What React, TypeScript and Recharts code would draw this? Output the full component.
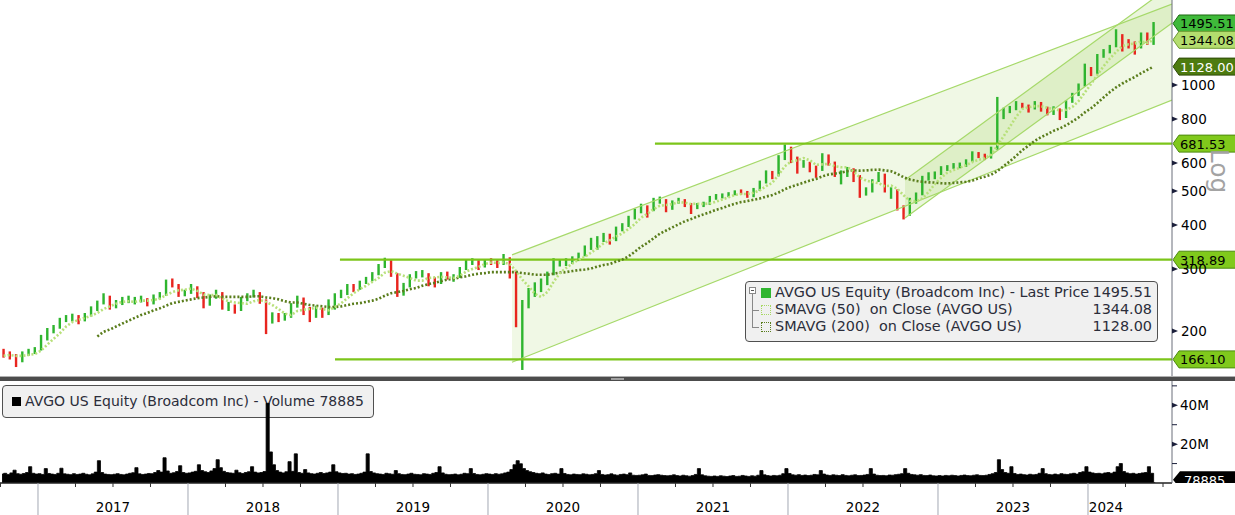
import React from 'react';
import { ComposedChart, Bar, Line, Area, XAxis, YAxis, ReferenceLine } from 'recharts';

const FONT = '"DejaVu Sans", Verdana, sans-serif';

// half-month periods starting Oct 2016
const PERIOD_START = 2016.75;
const PERIODS_PER_YEAR = 24;
// weekly-ish volume buckets (4 per month)
const VOL_PER_YEAR = 48;

const opens = [
  175,172,170,165,172,176,177,190,200,205,
  215,218,220,215,222,230,240,250,235,240,
  245,245,245,245,240,250,255,275,270,255,
  257,265,255,240,250,255,235,235,230,245,
  252,255,243,215,222,218,220,235,247,230,
  222,230,225,240,252,255,268,265,275,280,
  290,305,315,290,255,270,285,290,290,280,
  275,290,285,285,300,315,315,305,316,315,
  310,320,290,215,237,260,265,275,290,315,
  315,315,320,330,345,360,365,375,365,390,
  400,420,438,450,440,470,470,450,465,470,
  460,450,455,460,478,485,485,490,497,495,
  485,505,530,565,555,625,665,620,590,600,
  580,575,630,600,555,560,575,550,490,500,
  535,555,500,500,445,430,470,490,545,550,
  560,580,585,590,595,610,640,630,625,660,
  810,850,860,880,875,860,880,860,830,850,
  810,900,940,1000,1115,1080,1210,1250,1290,1380,
  1320,1290,1280,1380,1310,
];
const highs = [
  178,175,172,175,178,180,195,204,208,218,
  222,224,222,225,235,244,256,252,245,250,
  252,250,252,248,254,258,280,282,272,262,
  272,268,258,254,262,258,242,238,250,256,
  262,258,246,226,225,225,240,252,249,234,
  236,233,246,256,262,272,272,278,285,294,
  310,323,318,292,274,290,296,298,292,284,
  294,295,290,304,320,322,318,320,322,318,
  331,324,298,245,265,275,282,295,322,320,
  322,326,334,350,368,372,380,378,396,405,
  425,445,460,455,478,482,474,470,478,474,
  462,462,466,484,490,492,496,502,505,500,
  510,535,572,570,632,678,668,626,612,605,
  590,640,635,606,572,585,580,555,512,540,
  566,560,512,505,455,478,495,552,565,568,
  588,592,600,602,615,648,645,638,668,925,
  862,872,900,890,880,900,895,868,870,858,
  905,950,1010,1150,1125,1225,1265,1300,1440,1395,
  1350,1330,1410,1410,1510,
];
const lows = [
  168,166,158,163,170,172,176,188,197,203,
  212,213,209,213,220,228,238,230,232,237,
  240,238,241,235,238,246,252,266,250,251,
  255,248,232,236,247,230,228,224,228,243,
  249,239,196,210,212,214,218,233,222,212,
  218,218,222,230,248,253,258,262,272,277,
  288,302,285,250,252,266,282,284,268,266,
  272,280,276,283,298,308,298,303,308,302,
  308,282,205,155,232,250,258,270,288,305,
  306,310,316,326,340,340,358,352,360,384,
  395,415,432,420,438,460,435,442,460,450,
  430,444,450,456,472,476,480,486,488,478,
  480,500,525,540,550,612,600,560,582,565,
  545,570,590,548,522,548,530,478,485,495,
  530,495,475,440,415,425,460,486,535,540,
  555,570,578,580,585,605,620,612,618,655,
  800,832,848,860,835,852,840,820,822,795,
  806,890,930,990,1060,1075,1195,1230,1280,1245,
  1270,1220,1270,1300,1300,
];
const closes = [
  172,170,165,172,176,177,190,200,205,215,
  218,220,215,222,230,240,250,235,240,245,
  245,245,245,240,250,255,275,270,255,257,
  265,255,240,250,255,235,235,230,245,252,
  255,243,215,222,218,220,235,247,230,222,
  230,225,240,252,255,268,265,275,280,290,
  305,315,290,255,270,285,290,290,280,275,
  290,285,285,300,315,315,305,316,315,310,
  320,290,215,237,260,265,275,290,315,315,
  315,320,330,345,360,365,375,365,390,400,
  420,438,450,440,470,470,450,465,470,460,
  450,455,460,478,485,485,490,497,495,485,
  505,530,565,555,625,665,620,590,600,580,
  575,630,600,555,560,575,550,490,500,535,
  555,500,500,445,430,470,490,545,550,560,
  580,585,590,595,610,640,630,625,660,810,
  850,860,880,875,860,880,860,830,850,810,
  900,940,1000,1115,1080,1210,1250,1290,1380,1320,
  1290,1280,1380,1310,1495.51,
];
const sma50 = [
  170,171,170,170,171,172,176,183,190,197,
  206,212,215,218,221,225,231,235,239,242,
  243,242,244,244,245,247,253,258,261,262,
  264,260,254,253,253,247,243,241,240,239,
  243,245,242,237,231,224,222,228,230,231,
  233,231,229,234,240,248,256,263,269,276,
  283,293,296,291,287,283,278,278,283,284,
  285,284,283,287,295,300,304,310,313,312,
  313,310,296,280,268,255,250,258,276,292,
  302,311,319,325,334,344,355,362,371,379,
  390,403,420,430,444,454,456,459,465,463,
  459,460,459,461,466,473,480,487,490,490,
  494,502,516,528,556,588,606,611,620,611,
  593,595,597,588,584,584,568,546,535,530,
  526,516,518,507,486,469,467,476,497,523,
  545,564,573,582,592,604,613,620,633,673,
  715,761,812,855,865,871,871,861,856,846,
  850,866,900,953,1007,1069,1131,1189,1242,1290,
  1306,1312,1330,1316,1344.08,
];
const SMA200_FIRST = 15;
const sma200 = [
  193,199,202,206,210,214,218,222,225,229,
  232,236,240,242,244,246,248,249,250,251,
  250,250,250,250,250,251,251,249,248,246,
  243,241,241,239,237,236,235,234,234,235,
  237,239,240,242,244,247,252,256,258,260,
  263,265,269,272,274,277,280,281,284,286,
  289,291,292,294,294,294,294,294,292,291,
  289,289,289,291,293,294,296,298,299,301,
  305,308,310,315,319,326,336,347,356,367,
  378,386,394,402,410,416,423,429,435,442,
  447,454,460,465,468,472,476,482,487,495,
  506,514,521,528,535,541,550,557,560,564,
  569,572,571,572,574,575,572,569,559,547,
  539,534,531,529,528,526,525,527,529,531,
  535,543,549,556,569,588,607,629,653,673,
  694,711,725,741,753,769,788,809,836,859,
  889,922,955,985,1010,1033,1054,1080,1104,1128,
];
// volume in millions of shares
const volumeM = [
  4.6,5.0,4.4,5.2,6.6,4.8,4.5,4.9,5.4,8.4,5.0,4.6,
  4.8,4.4,7.4,4.9,4.6,4.4,5.0,7.6,4.7,4.5,4.3,4.8,
  4.4,4.6,5.0,4.5,4.2,4.7,5.6,11.5,5.4,4.6,4.4,4.3,
  4.5,4.8,4.4,4.2,4.6,5.0,5.3,7.9,4.7,4.4,4.6,4.9,
  4.8,5.4,6.4,5.6,13.0,6.2,5.0,5.3,5.9,8.9,5.4,5.0,
  5.2,5.6,6.0,9.4,6.4,5.8,5.4,6.2,7.4,12.0,7.9,6.0,
  5.4,5.2,5.0,6.6,5.3,4.9,5.4,5.8,8.4,5.6,5.2,5.4,
  5.9,41.0,16.0,9.4,6.4,5.6,5.2,5.8,11.0,6.0,15.0,5.4,
  5.0,6.9,5.2,4.8,4.6,5.0,5.4,4.9,5.2,5.6,9.4,5.8,
  5.2,4.9,5.0,4.6,4.8,4.4,4.6,5.0,5.6,15.0,5.9,5.2,
  4.8,4.6,4.4,5.0,4.7,4.5,6.4,4.8,4.4,4.3,4.6,5.0,
  4.5,4.4,4.2,4.8,4.6,4.4,5.0,5.4,8.4,5.2,4.5,4.3,
  4.4,4.6,4.2,4.5,5.0,4.8,7.4,4.9,4.4,4.2,4.5,4.8,
  4.6,4.4,4.8,4.5,4.7,5.2,5.6,6.9,9.4,11.5,9.9,7.4,
  6.4,5.8,5.4,5.0,4.8,5.2,4.6,4.4,4.8,5.0,4.6,7.4,
  4.9,4.4,4.2,4.6,4.4,4.3,4.7,4.5,4.2,4.4,4.8,6.4,
  4.4,4.1,4.3,4.7,4.2,4.0,4.4,4.6,4.3,5.2,4.0,3.9,
  4.0,4.2,4.6,3.9,3.8,4.1,4.3,4.0,3.8,3.7,3.9,4.2,
  3.8,3.6,4.0,3.7,3.5,3.8,4.4,7.4,4.2,3.7,3.5,3.4,
  3.6,3.4,3.7,3.5,3.3,3.6,3.8,3.4,3.5,3.9,3.6,3.4,
  3.7,3.5,4.0,6.4,4.2,3.8,3.6,3.9,3.7,4.0,4.8,7.4,
  4.9,4.2,4.0,4.3,3.9,4.1,3.8,4.0,4.4,4.2,6.4,4.6,
  4.1,3.9,4.2,4.0,3.8,4.3,3.9,3.7,4.0,4.2,3.8,3.9,
  4.1,4.4,7.4,4.6,4.0,3.8,3.9,3.7,4.1,4.0,4.3,4.5,
  4.8,7.4,5.0,4.4,4.2,4.0,4.3,3.9,3.8,4.1,3.7,3.6,
  3.8,3.6,3.9,3.7,4.0,3.8,3.6,3.9,4.1,3.8,3.7,4.0,
  4.2,3.9,3.8,4.0,4.4,4.8,5.4,12.0,6.9,5.4,5.0,8.4,
  4.9,4.4,4.6,4.3,4.1,4.5,4.2,4.4,5.0,7.4,4.8,4.4,
  4.2,4.6,4.3,4.8,4.5,4.4,4.7,5.0,4.6,5.4,5.8,8.4,
  5.6,5.2,4.9,5.0,4.7,5.2,5.4,5.0,5.6,8.4,10.0,5.9,
  5.2,4.8,5.0,4.6,4.9,5.2,5.4,8.4,5.0,0.078885,
];

const years = [2017, 2018, 2019, 2020, 2021, 2022, 2023, 2024];
const priceTicks = [200, 300, 400, 500, 600, 800, 1000];
const volumeTicks = [10, 20, 30, 40, 50];
const volumeTickLabels: Record<number, string> = { 20: '20M', 40: '40M' };

const X_MIN = 2016.7467;
const X_MAX = 2024.56;

// horizontal support/resistance levels and where they start
const levelValues = [681.53, 318.89, 166.1];
const levelStarts = [2021.113, 2019.013, 2018.98];
const levelLabels = ['681.53', '318.89', '166.10'];

// last-value tags
const lastValues = [1495.51, 1344.08, 1128.0];
const lastLabels = ['1495.51', '1344.08', '1128.00'];
const lastFills = ['#3fb93a', '#b4dd6e', '#4d7b10'];
const lastStrokes = ['#1f6a14', '#6f9a33', '#2d4a07'];
const lastTextColors = ['#000', '#000', '#fff'];

// trend channels (start / end, lower / upper)
const wideChannel = [
  { t: 2020.16, lo: 163, hi: 329 },
  { t: 2024.56, lo: 906, hi: 1699 },
];
const innerChannel = [
  { t: 2022.78, lo: 419, hi: 537 },
  { t: 2024.56, lo: 1500, hi: 1923 },
];

const priceData = closes.map((c, i) => ({
  t: PERIOD_START + (i + 0.5) / PERIODS_PER_YEAR,
  o: opens[i],
  h: highs[i],
  l: lows[i],
  c,
  s50: sma50[i],
  s200: i >= SMA200_FIRST ? sma200[i - SMA200_FIRST] : null,
}));

const volData = volumeM.map((v, j) => ({
  t: PERIOD_START + (j + 0.5) / VOL_PER_YEAR,
  v,
}));

const xTicks: number[] = [PERIOD_START];
years.forEach((y) => {
  [0, 0.25, 0.5, 0.75].forEach((q) => {
    if (y + q <= X_MAX) xTicks.push(y + q);
  });
});

const GREEN = '#2fb52f';
const RED = '#e8251f';

const Candle = (props: any) => {
  const { x, y, width, height, payload } = props;
  if (!payload || height == null) return null;
  const { o, h, l, c } = payload;
  const lh = Math.log(h);
  const ll = Math.log(l);
  const py = (v: number) => y + (height * (lh - Math.log(v))) / (lh - ll);
  const up = c >= o;
  const color = up ? GREEN : RED;
  const cx = x + width / 2;
  const top = py(Math.max(o, c));
  const bot = py(Math.min(o, c));
  return (
    <g>
      <line x1={cx} x2={cx} y1={y} y2={y + height} stroke={color} strokeWidth={2.4} />
      <rect x={x} y={top} width={width} height={Math.max(2, bot - top)} fill={color} />
    </g>
  );
};

const PriceTag = (props: any) => {
  const { viewBox, text, fill, stroke, color } = props;
  if (!viewBox) return null;
  const x = viewBox.x + viewBox.width;
  const y = viewBox.y;
  const h = 17;
  const x1 = x + 7;
  return (
    <g>
      <path
        d={`M${x + 1},${y} L${x1},${y - h / 2} L1240,${y - h / 2} L1240,${y + h / 2} L${x1},${y + h / 2} Z`}
        fill={fill}
        stroke={stroke}
        strokeWidth={1}
      />
      <text x={x1 + 1} y={Math.round(y + 5)} fontSize={13} fontFamily={FONT} fill={color} stroke="none">
        {text}
      </text>
    </g>
  );
};

const VolTag = (props: any) => {
  const { viewBox } = props;
  if (!viewBox) return null;
  const x = viewBox.x + viewBox.width;
  const y = viewBox.y - 3;
  const h = 17;
  const x1 = x + 8;
  return (
    <g>
      <defs>
        <clipPath id="volTagClip">
          <rect x={0} y={0} width={1240} height={102} />
        </clipPath>
      </defs>
      <g clipPath="url(#volTagClip)">
        <path
          d={`M${x + 1},${y} L${x1},${y - h / 2} L1240,${y - h / 2} L1240,${y + h / 2} L${x1},${y + h / 2} Z`}
          fill="#000"
        />
        <text x={x1 + 4} y={Math.round(y + 5)} fontSize={13} fontFamily={FONT} fill="#fff" stroke="none">
          78885
        </text>
      </g>
    </g>
  );
};

const PriceTick = (props: any) => {
  const { x, y, payload } = props;
  return (
    <g>
      <path d={`M${x},${y - 2.5} L${x + 6},${y} L${x},${y + 2.5} Z`} fill="#1b1f3b" stroke="none" />
      <text x={Math.round(x + 9)} y={Math.round(y + 5)} fontSize={13.5} fontFamily={FONT} fill="#000" stroke="none">
        {payload.value}
      </text>
    </g>
  );
};

const VolTick = (props: any) => {
  const { x, y, payload } = props;
  const label = volumeTickLabels[payload.value];
  if (!label) return <line x1={x} x2={x + 5} y1={y} y2={y} stroke="#1b1f3b" />;
  return (
    <g>
      <path d={`M${x},${y - 2.5} L${x + 6},${y} L${x},${y + 2.5} Z`} fill="#1b1f3b" stroke="none" />
      <text x={Math.round(x + 8)} y={Math.round(y + 5)} fontSize={13.5} fontFamily={FONT} fill="#000" stroke="none">
        {label}
      </text>
    </g>
  );
};

const XTick = (props: any) => {
  const { x, y, payload } = props;
  const v = payload.value;
  const yr = Math.round(v);
  const isYear = Math.abs(v - yr) < 1e-6;
  if (!isYear) return <line x1={x} x2={x} y1={y} y2={y + 4} stroke="#333" />;
  const cx = Math.round(yr === years[years.length - 1] ? x + 18 : x + 75);
  return (
    <g>
      <line x1={x} x2={x} y1={y} y2={y + 34} stroke="#a3a8b4" />
      <text x={cx} y={Math.round(y + 29)} textAnchor="middle" fontSize={13.5} fontWeight={400} fontFamily={FONT} fill="#000" stroke="none">
        {yr}
      </text>
    </g>
  );
};

const chanFill = '#9fd35f';
const chanStroke = '#a6d96a';

export default function App() {
  return (
    <div style={{ position: 'absolute', left: 0, top: 0, width: 1235, height: 515, background: '#fff', overflow: 'hidden' }}>
      {/* price panel */}
      <div style={{ position: 'absolute', left: 0, top: 0 }}>
        <ComposedChart width={1235} height={376} data={priceData} margin={{ top: 0, right: 0, bottom: 0, left: 0 }}>
          <XAxis dataKey="t" type="number" domain={[X_MIN, X_MAX]} allowDataOverflow hide />
          <YAxis
            orientation="right"
            width={63}
            scale="log"
            domain={[149, 1744]}
            allowDataOverflow
            ticks={priceTicks}
            interval={0}
            tickLine={false}
            tickSize={0}
            tickMargin={0}
            tick={<PriceTick />}
            axisLine={{ stroke: '#6b6f7a' }}
          />
          <Area data={wideChannel} dataKey={(d: any) => [d.lo, d.hi]} type="linear" fill={chanFill} fillOpacity={0.16} stroke="none" isAnimationActive={false} dot={false} activeDot={false} />
          <Area data={innerChannel} dataKey={(d: any) => [d.lo, d.hi]} type="linear" fill={chanFill} fillOpacity={0.22} stroke="none" isAnimationActive={false} dot={false} activeDot={false} />
          <Line data={wideChannel} dataKey="lo" stroke={chanStroke} strokeWidth={1.2} dot={false} activeDot={false} isAnimationActive={false} />
          <Line data={wideChannel} dataKey="hi" stroke={chanStroke} strokeWidth={1.2} dot={false} activeDot={false} isAnimationActive={false} />
          <Line data={innerChannel} dataKey="lo" stroke={chanStroke} strokeWidth={1.2} dot={false} activeDot={false} isAnimationActive={false} />
          <Line data={innerChannel} dataKey="hi" stroke={chanStroke} strokeWidth={1.2} dot={false} activeDot={false} isAnimationActive={false} />
          {levelValues.map((v, k) => (
            <ReferenceLine
              key={'lvl' + k}
              segment={[{ x: levelStarts[k], y: v }, { x: X_MAX, y: v }]}
              stroke="#7cc51a"
              strokeWidth={2.2}
              label={<PriceTag text={levelLabels[k]} fill="#80c91c" stroke="#4d8a10" color="#000" />}
            />
          ))}
          <Bar
            dataKey={(d: any) => [d.l, d.h]}
            barSize={6}
            isAnimationActive={false}
            shape={(p: any) => <Candle {...p} />}
          />
          <Line dataKey="s200" stroke="#5a7d1c" strokeWidth={2.6} strokeDasharray="2 2" dot={false} activeDot={false} isAnimationActive={false} connectNulls={false} />
          <Line dataKey="s50" stroke="#b8e07a" strokeWidth={2.6} strokeDasharray="2 2" dot={false} activeDot={false} isAnimationActive={false} />
          {lastValues.map((v, k) => (
            <ReferenceLine
              key={'last' + k}
              y={v}
              stroke="none"
              label={<PriceTag text={lastLabels[k]} fill={lastFills[k]} stroke={lastStrokes[k]} color={lastTextColors[k]} />}
            />
          ))}
        </ComposedChart>
      </div>

      {/* Log watermark */}
      <div
        style={{
          position: 'absolute',
          left: 1194,
          top: 156,
          width: 50,
          height: 30,
          fontFamily: FONT,
          fontSize: 25,
          color: '#a3a3a3',
          transform: 'rotate(90deg)',
          transformOrigin: 'center',
          textAlign: 'center',
          lineHeight: '30px',
        }}
      >
        Log
      </div>

      {/* price legend */}
      <div
        style={{
          position: 'absolute',
          left: 745,
          top: 281,
          width: 413,
          height: 61,
          background: '#f0f0f0',
          border: '1px solid #505050',
          borderRadius: 4,
          boxSizing: 'border-box',
          fontFamily: FONT,
          fontSize: 14.4,
          color: '#2b2d3a',
        }}
      >
        <div style={{ position: 'absolute', left: 3, top: 5, width: 7, height: 7, border: '1px solid #888', boxSizing: 'border-box', background: '#fff' }}>
          <div style={{ position: 'absolute', left: 1, top: 2, width: 3, height: 1, background: '#555' }} />
        </div>
        <div style={{ position: 'absolute', left: 6, top: 12, width: 1, height: 34, background: '#888' }} />
        <div style={{ position: 'absolute', left: 6, top: 28, width: 7, height: 1, background: '#888' }} />
        <div style={{ position: 'absolute', left: 6, top: 45, width: 7, height: 1, background: '#888' }} />
        <div style={{ position: 'absolute', left: 15, top: 6, width: 10, height: 10, background: '#30b530' }} />
        <div style={{ position: 'absolute', left: 15, top: 23, width: 10, height: 10, border: '1px dotted #a8d865', boxSizing: 'border-box' }} />
        <div style={{ position: 'absolute', left: 15, top: 40, width: 10, height: 10, border: '1px dotted #5a7d1c', boxSizing: 'border-box' }} />
        {[
          ['AVGO US Equity (Broadcom Inc) - Last Price', '1495.51'],
          ['SMAVG (50)  on Close (AVGO US)', '1344.08'],
          ['SMAVG (200)  on Close (AVGO US)', '1128.00'],
        ].map((row, k) => (
          <div key={k} style={{ position: 'absolute', left: 29, right: 5, top: 2 + k * 17, height: 17, lineHeight: '17px', whiteSpace: 'pre' }}>
            <span>{row[0]}</span>
            <span style={{ position: 'absolute', right: 0 }}>{row[1]}</span>
          </div>
        ))}
      </div>

      {/* panel divider */}
      <div style={{ position: 'absolute', left: 0, top: 376, width: 1235, height: 1, background: '#b0b0b0' }} />
      <div style={{ position: 'absolute', left: 0, top: 377, width: 1235, height: 4, background: '#4c4c4c' }} />
      <div style={{ position: 'absolute', left: 611, top: 378, width: 13, height: 2, background: '#a0a0a0' }} />

      {/* volume legend (under volume bars) */}
      <div
        style={{
          position: 'absolute',
          left: 2,
          top: 385,
          width: 372,
          height: 33,
          background: '#f0f0f0',
          border: '1px solid #505050',
          borderRadius: 4,
          boxSizing: 'border-box',
          fontFamily: FONT,
          fontSize: 14,
          color: '#2b2d3a',
        }}
      >
        <div style={{ position: 'absolute', left: 9, top: 11, width: 9, height: 9, background: '#000' }} />
        <div style={{ position: 'absolute', left: 22, top: 7, lineHeight: '17px', whiteSpace: 'pre' }}>
          AVGO US Equity (Broadcom Inc) - Volume 78885
        </div>
      </div>

      {/* volume panel + time axis */}
      <div style={{ position: 'absolute', left: 0, top: 381 }}>
        <ComposedChart width={1235} height={134} data={volData} margin={{ top: 0, right: 0, bottom: 0, left: 0 }}>
          <XAxis
            dataKey="t"
            type="number"
            domain={[X_MIN, X_MAX]}
            allowDataOverflow
            ticks={xTicks}
            interval={0}
            height={32}
            tickLine={false}
            tickSize={0}
            tickMargin={0}
            tick={<XTick />}
            axisLine={{ stroke: '#222', strokeWidth: 1.5 }}
          />
          <YAxis
            orientation="right"
            width={63}
            domain={[0, 52.5]}
            allowDataOverflow
            ticks={volumeTicks}
            interval={0}
            tickLine={false}
            tickSize={0}
            tickMargin={0}
            tick={<VolTick />}
            axisLine={{ stroke: '#6b6f7a' }}
          />
          <Area dataKey="v" type="step" fill="#000" fillOpacity={1} stroke="#000" strokeWidth={0.8} baseValue={0} isAnimationActive={false} dot={false} activeDot={false} />
          <ReferenceLine y={0.078885} stroke="none" label={<VolTag />} />
        </ComposedChart>
      </div>
    </div>
  );
}
